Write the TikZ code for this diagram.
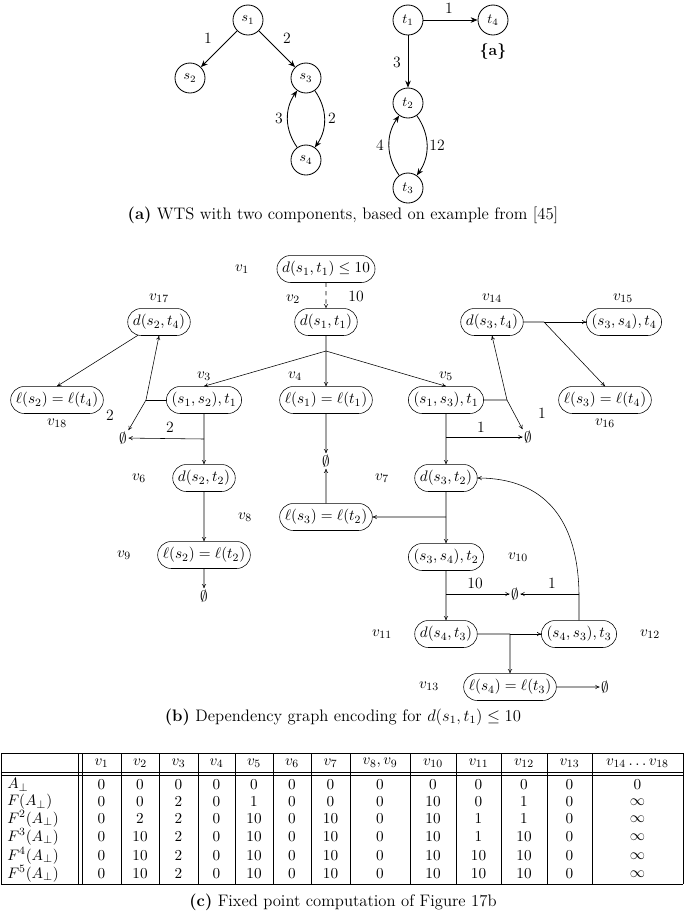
\documentclass[tikz,border=0pt]{standalone}
\usetikzlibrary{shapes.misc,arrows.meta}
\begin{document}
\begin{tikzpicture}[x=0.72pt,y=-0.72pt,font=\fontsize{11.3}{13.5}\selectfont,
  st/.style={draw,circle,semithick,minimum size=21.6pt,inner sep=0pt,font=\normalsize},
  wa/.style={semithick,-{Stealth[length=5pt,width=4pt]}},
  rn/.style={draw,rounded rectangle,minimum height=19.4pt,inner xsep=2pt,inner ysep=1pt},
  ea/.style={-{To[length=3pt,width=3pt]},thin},
  lb/.style={inner sep=1pt},
  tc/.style={inner sep=0pt}]
\useasboundingbox (0,0) rectangle (685,913);
% ---------- (a)
\node[st] (s1) at (248,20) {$s_1$};
\node[st] (s2) at (190,78) {$s_2$};
\node[st] (s3) at (306,78) {$s_3$};
\node[st] (s4) at (306,160) {$s_4$};
\node[st] (t1) at (408,20) {$t_1$};
\node[st] (t4) at (493,20) {$t_4$};
\node[st] (t2) at (408,103) {$t_2$};
\node[st] (t3) at (408,188) {$t_3$};
\draw[wa] (s1) -- (s2);
\draw[wa] (s1) -- (s3);
\draw[wa] (s3) to[bend left=35] (s4);
\draw[wa] (s4) to[bend left=35] (s3);
\draw[wa] (t1) -- (t4);
\draw[wa] (t1) -- (t2);
\draw[wa] (t2) to[bend left=35] (t3);
\draw[wa] (t3) to[bend left=35] (t2);
\node[lb] (la1) at (208,38) {1};
\node[lb] (la2) at (287,38) {2};
\node[lb] (la3) at (279,118) {3};
\node[lb] (la4) at (332,118) {2};
\node[lb] (la5) at (449,8) {1};
\node[lb] (la6) at (397,62) {3};
\node[lb] (la7) at (380,145) {4};
\node[lb] (la8) at (437,145) {12};
\node[lb] (lset) at (493,52) {\textbf{\{a\}}};
\node (capa) at (343,215) {\large\textbf{(a)} WTS with two components, based on example from [45]};
% ---------- (b)
\node[rn] (v1) at (326,269) {$d(s_1,t_1)\le 10$};
\node[rn] (v2) at (326,322) {$d(s_1,t_1)$};
\node[rn] (v17) at (159,322) {$d(s_2,t_4)$};
\node[rn] (v14) at (492,322) {$d(s_3,t_4)$};
\node[rn] (v15) at (624,322) {$(s_3,s_4),t_4$};
\node[rn] (v18) at (57,400) {$\ell(s_2)=\ell(t_4)$};
\node[rn] (v3) at (204,400) {$(s_1,s_2),t_1$};
\node[rn] (v4) at (326,400) {$\ell(s_1)=\ell(t_1)$};
\node[rn] (v5) at (446,400) {$(s_1,s_3),t_1$};
\node[rn] (v16) at (605,400) {$\ell(s_3)=\ell(t_4)$};
\node[rn] (v6) at (204,478) {$d(s_2,t_2)$};
\node[rn] (v7) at (446,478) {$d(s_3,t_2)$};
\node[rn] (v8) at (326,517) {$\ell(s_3)=\ell(t_2)$};
\node[rn] (v9) at (204,555) {$\ell(s_2)=\ell(t_2)$};
\node[rn] (v10) at (446,557) {$(s_3,s_4),t_2$};
\node[rn] (v11) at (446,634) {$d(s_4,t_3)$};
\node[rn] (v12) at (579,634) {$(s_4,s_3),t_3$};
\node[rn] (v13) at (510,687) {$\ell(s_4)=\ell(t_3)$};
\node[lb] (e1) at (123,438) {$\emptyset$};
\node[lb] (e2) at (528,437) {$\emptyset$};
\node[lb] (e3) at (326,461) {$\emptyset$};
\node[lb] (e4) at (204,596) {$\emptyset$};
\node[lb] (e5) at (515,594) {$\emptyset$};
\node[lb] (e6) at (605,687) {$\emptyset$};
\foreach \n/\x/\y in {1/242/269,2/293/299,17/159/298,14/492/298,15/623/298,18/57/423,3/204/376,4/295/376,5/446/376,16/605/423,6/139/478,7/382/478,8/245/517,9/124/555,10/518/557,11/382/634,12/650/634,13/429/686}
  \node (l\n) at (\x,\y) {$v_{\n}$};
\foreach \t/\x/\y [count=\i] in {10/356/296,2/110/415,2/170/427,1/542/413,1/481/427,10/475/583,1/552/583}
  \node[lb] (n\i) at (\x,\y) {\t};
\coordinate (h1) at (326,351);
\coordinate (j3) at (146,400);
\coordinate (b3) at (204,439);
\coordinate (j5) at (507,400);
\coordinate (b5) at (446,437);
\coordinate (j14) at (544,322);
\coordinate (b7) at (446,517);
\coordinate (b10) at (446,594);
\coordinate (c12) at (579,594);
\coordinate (j11) at (510,634);
\draw[ea,dashed] (v1) -- (v2);
\draw[thin] (v2) -- (h1);
\draw[ea] (h1) -- (v3.north);
\draw[ea] (h1) -- (v4);
\draw[ea] (h1) -- (v5.north);
\draw[thin] (v3) -- (j3);
\draw[ea] (j3) -- (v17.south);
\draw[ea] (j3) -- (e1.north east);
\draw[ea] (v3) -- (v6);
\draw[ea] (b3) -- (e1);
\draw[ea] (v17) -- (v18.north);
\draw[ea] (v4) -- (e3);
\draw[ea] (v8) -- (e3);
\draw[thin] (v5) -- (j5);
\draw[ea] (j5) -- (v14.south);
\draw[ea] (j5) -- (e2.north west);
\draw[ea] (v5) -- (v7);
\draw[ea] (b5) -- (e2);
\draw[thin] (v14) -- (j14);
\draw[ea] (j14) -- (v15);
\draw[ea] (j14) -- (v16.north);
\draw[ea] (v6) -- (v9);
\draw[ea] (v9) -- (e4);
\draw[ea] (v7) -- (v10);
\draw[ea] (b7) -- (v8);
\draw[ea] (v10) -- (v11);
\draw[ea] (b10) -- (e5);
\draw[thin] (v12) -- (c12);
\draw[ea] (c12) -- (e5);
\draw[ea] (c12) .. controls (578,520) and (545,478) .. (v7.east);
\draw[thin] (v11) -- (j11);
\draw[ea] (j11) -- (v12);
\draw[ea] (j11) -- (v13);
\draw[ea] (v13) -- (e6);
\node (capb) at (343,717) {\large\textbf{(b)} Dependency graph encoding for $d(s_1,t_1)\le 10$};
% ---------- (c)
\draw[thin] (1,753) -- (683,753) (1,772) -- (683,772) (1,775) -- (683,775) (1,884) -- (683,884);
\foreach \x in {1,78,82,121,159,198,235,273,311,350,410,456,501,547,592,683}
  \draw[thin] (\x,753) -- (\x,884);
\foreach \x/\t [count=\i] in {101.5/v_1,140/v_2,178.5/v_3,216.5/v_4,254/v_5,292/v_6,330.5/v_7,380/{v_8,v_9},433/v_{10},478.5/v_{11},524/v_{12},569.5/v_{13},637.5/v_{14}\ldots v_{18}}
  \node[tc] (hd\i) at (\x,763) {$\t$};
\foreach \t/\y [count=\r] in {A_\bot/785,F(A_\bot)/802,F^2(A_\bot)/819,F^3(A_\bot)/837,F^4(A_\bot)/856,F^5(A_\bot)/874}
  \node[anchor=west,tc] (rl\r) at (7,\y) {$\t$};
\foreach \y/\r in {785/1,802/2,819/3,837/4,856/5,874/6}{
  \ifcase\r\or
    \def\row{0,0,0,0,0,0,0,0,0,0,0,0,0}\or
    \def\row{0,0,2,0,1,0,0,0,10,0,1,0,\infty}\or
    \def\row{0,2,2,0,10,0,10,0,10,1,1,0,\infty}\or
    \def\row{0,10,2,0,10,0,10,0,10,1,10,0,\infty}\or
    \def\row{0,10,2,0,10,0,10,0,10,10,10,0,\infty}\or
    \def\row{0,10,2,0,10,0,10,0,10,10,10,0,\infty}\fi
  \foreach \v [count=\c] in \row {
    \pgfmathsetmacro\cx{{101.5,140,178.5,216.5,254,292,330.5,380,433,478.5,524,569.5,637.5}[\c-1]}
    \node[tc] (d\r-\c) at (\cx,\y) {$\v$};
  }
}
\node (capc) at (343,902) {\large\textbf{(c)} Fixed point computation of Figure 17b};
\end{tikzpicture}
\end{document}
